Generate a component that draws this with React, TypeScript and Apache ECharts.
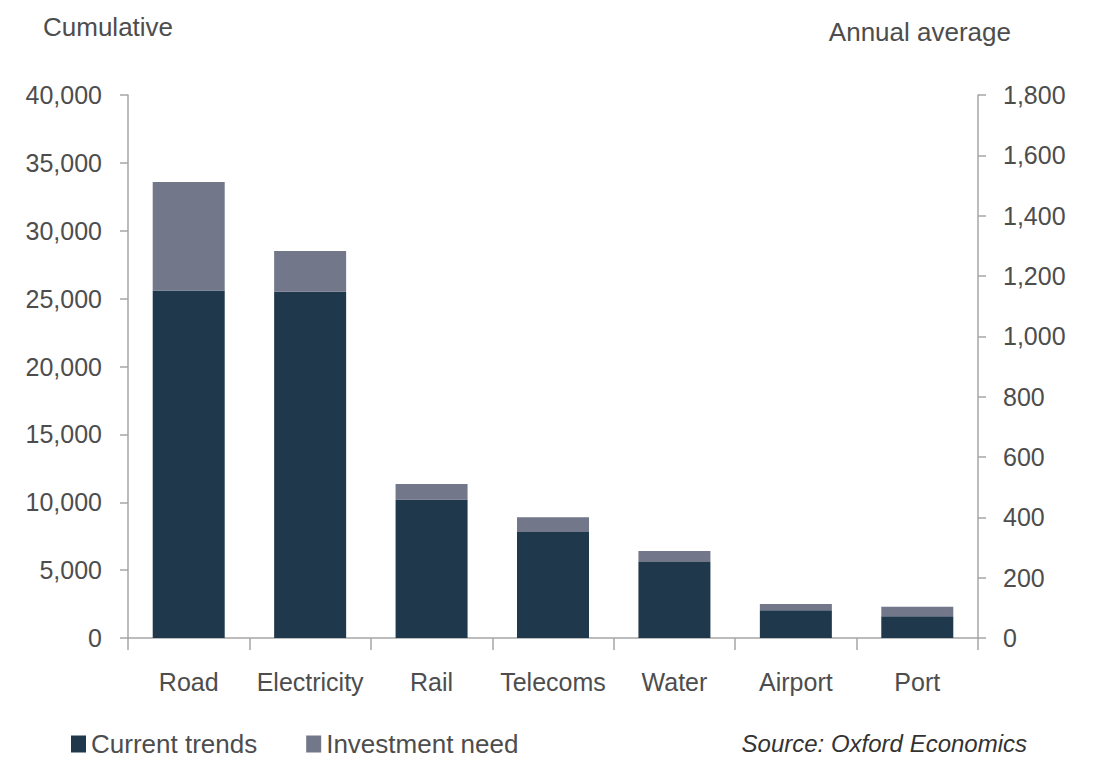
import React, { useEffect, useRef } from "react";
import * as echarts from "echarts";

const categories = ["Road", "Electricity", "Rail", "Telecoms", "Water", "Airport", "Port"];
const currentTrends = [25600, 25500, 10200, 7800, 5600, 2050, 1600];
const investmentNeed = [8000, 3000, 1150, 1100, 800, 450, 700];
const leftTicks = { min: 0, max: 40000, interval: 5000 };
const rightTicks = { min: 0, max: 1800, interval: 200 };

const FONT = "'Liberation Sans', Arial, sans-serif";
const TEXT = "#4d4d4d";
const AXIS = "#a6a6a6";

export default function App() {
  const ref = useRef<HTMLDivElement>(null);
  useEffect(() => {
    if (!ref.current) return;
    const chart = echarts.init(ref.current, null, { renderer: "svg" });
    const fmt = (v: number) => v.toLocaleString("en-US");
    chart.setOption({
      animation: false,
      textStyle: { fontFamily: FONT },
      grid: { left: 128, right: 116, top: 95, bottom: 126 },
      legend: {
        left: 71,
        top: 731,
        padding: 0,
        itemWidth: 15,
        itemHeight: 17,
        itemGap: 49,
        icon: "rect",
        textStyle: { fontFamily: FONT, fontSize: 26, color: TEXT },
        data: ["Current trends", "Investment need"],
      },
      graphic: [
        {
          type: "text",
          left: 43,
          top: 14,
          style: { text: "Cumulative", fontFamily: FONT, fontSize: 26, fill: TEXT },
        },
        {
          type: "text",
          right: 83,
          top: 19,
          style: { text: "Annual average", fontFamily: FONT, fontSize: 26, fill: TEXT },
        },
        {
          type: "text",
          right: 67,
          top: 731,
          style: {
            text: "Source: Oxford Economics",
            fontFamily: FONT,
            fontSize: 24,
            fontStyle: "italic",
            fill: "#333333",
          },
        },
      ],
      xAxis: {
        type: "category",
        data: categories,
        axisLine: { lineStyle: { color: AXIS, width: 1.5 } },
        axisTick: { show: true, length: 12, lineStyle: { color: AXIS, width: 1.5 } },
        axisLabel: { color: TEXT, fontSize: 25, margin: 31, interval: 0, fontFamily: FONT },
      },
      yAxis: [
        {
          type: "value",
          position: "left",
          ...leftTicks,
          splitLine: { show: false },
          axisLine: { show: true, lineStyle: { color: AXIS, width: 1.5 } },
          axisTick: { show: true, length: 8, lineStyle: { color: AXIS, width: 1.5 } },
          axisLabel: { color: TEXT, fontSize: 25, margin: 26, formatter: fmt, fontFamily: FONT },
        },
        {
          type: "value",
          position: "right",
          ...rightTicks,
          splitLine: { show: false },
          axisLine: { show: true, lineStyle: { color: AXIS, width: 1.5 } },
          axisTick: { show: true, length: 8, lineStyle: { color: AXIS, width: 1.5 } },
          axisLabel: { color: TEXT, fontSize: 25, margin: 25, formatter: fmt, fontFamily: FONT },
        },
      ],
      series: [
        {
          name: "Current trends",
          type: "bar",
          stack: "total",
          barWidth: 72,
          data: currentTrends,
          itemStyle: { color: "#1f384c" },
        },
        {
          name: "Investment need",
          type: "bar",
          stack: "total",
          barWidth: 72,
          data: investmentNeed,
          itemStyle: { color: "#72778a" },
        },
      ],
    });
    return () => chart.dispose();
  }, []);
  return <div ref={ref} style={{ width: 1094, height: 764, margin: -8 }} />;
}
